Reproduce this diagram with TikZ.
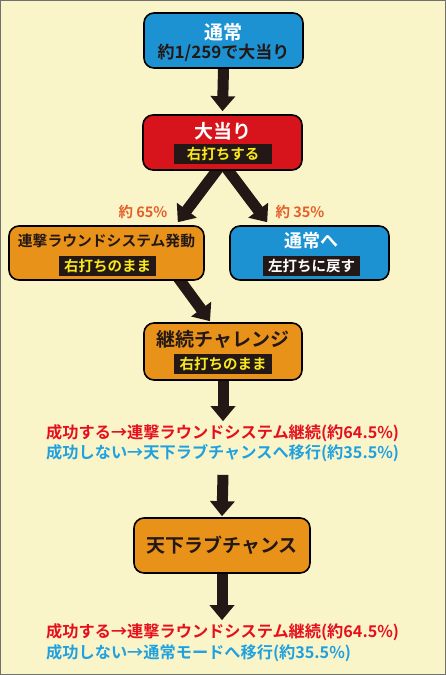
\documentclass[tikz,border=0pt]{standalone}
\usepackage{fontspec}
\setmainfont{Noto Sans CJK JP}[BoldFont={Noto Sans CJK JP Bold}]
\usetikzlibrary{arrows.meta,calc}
\pgfdeclarelayer{bg}
\pgfsetlayers{bg,main}
\definecolor{bgc}{HTML}{FAF5C8}
\definecolor{framec}{HTML}{707070}
\definecolor{bluec}{HTML}{1D92D2}
\definecolor{redc}{HTML}{D7141B}
\definecolor{orc}{HTML}{E8921A}
\definecolor{bandc}{HTML}{231815}
\definecolor{arc}{HTML}{231815}
\definecolor{yel}{HTML}{F8E81C}
\definecolor{pctc}{HTML}{E4602A}
\definecolor{txtred}{HTML}{E60F1E}
\definecolor{txtblue}{HTML}{1FA0E0}
\tikzset{
 box/.style={draw=black, line width=1.6pt, rounded corners=10pt, inner sep=0pt},
 title/.style={inner sep=0pt, font=\bfseries\fontsize{19}{19}\selectfont, text=white},
 sub/.style={inner sep=0pt, font=\bfseries\fontsize{17}{17}\selectfont, text=bandc},
 band/.style={fill=bandc, text=yel, inner sep=0pt, font=\bfseries\fontsize{14.5}{14.5}\selectfont, minimum height=20pt},
 fat/.style={draw=arc, line width=11pt, -{Triangle[width=24pt,length=15pt]}},
 pct/.style={inner sep=0pt, text=pctc, font=\bfseries\fontsize{14.5}{14.5}\selectfont},
 res/.style={inner sep=0pt, anchor=west, font=\bfseries\fontsize{16.2}{16.2}\selectfont}
}
\begin{document}
\begin{tikzpicture}[x=1pt,y=-1pt]
\useasboundingbox (0,0) rectangle (446,675);
% boxes
\node[box, fill=bluec, minimum width=159pt, minimum height=55pt] (tj) at (223.5,40.5) {};
\node[title] (tjt) at (223.5,32) {通常};
\node[sub] (tjs) at (223.5,53) {約1/259で大当り};

\node[box, fill=redc, minimum width=159pt, minimum height=55pt] (ha) at (222.5,142.5) {};
\node[title] (hat) at (222.5,131) {大当り};
\node[band, minimum width=98pt] (hab) at (223,153.5) {右打ちする};

\node[pct] (p65) at (143,212) {約 65\%};
\node[pct] (p35) at (300,212) {約 35\%};

\node[box, fill=orc, minimum width=195pt, minimum height=54pt] (lb) at (106.5,253) {};
\node[title, text=bandc, font=\bfseries\fontsize{14.8}{14.8}\selectfont] (lbt) at (106.5,241) {連撃ラウンドシステム発動};
\node[band, minimum width=97pt] (lbb) at (107.5,266) {右打ちのまま};

\node[box, fill=bluec, minimum width=159pt, minimum height=54pt] (rb) at (309.5,253) {};
\node[title, font=\bfseries\fontsize{18}{18}\selectfont] (rbt) at (311,241) {通常へ};
\node[band, minimum width=97pt, text=white] (rbb) at (311.5,266) {左打ちに戻す};

\node[box, fill=orc, minimum width=158pt, minimum height=57pt] (kc) at (223,351.5) {};
\node[title, text=bandc] (kct) at (223,339) {継続チャレンジ};
\node[band, minimum width=98pt] (kcb) at (223,364) {右打ちのまま};

\node[res, text=txtred] (t1) at (46,433) {成功する→連撃ラウンドシステム継続(約64.5\%)};
\node[res, text=txtblue] (t2) at (46,453) {成功しない→天下ラブチャンスへ移行(約35.5\%)};

\node[box, fill=orc, minimum width=176pt, minimum height=55pt] (tl) at (222,545.5) {};
\node[title, text=bandc] (tlt) at (222,545) {天下ラブチャンス};

\node[res, text=txtred] (t3) at (46,632) {成功する→連撃ラウンドシステム継続(約64.5\%)};
\node[res, text=txtblue] (t4) at (46,653) {成功しない→通常モードへ移行(約35.5\%)};

\begin{pgfonlayer}{bg}
\fill[bgc] (0,0) rectangle (446,675);
\draw[framec, line width=1.4pt] (0.7,0.7) rectangle (445.3,674.3);
\draw[fat] (tj.south) -- ($(ha.north)+(0,-3)$);
\draw[fat] ($(ha.south)+(0,-8)$) -- ($(lb.north east)+(-27,-3)$);
\draw[fat] ($(ha.south)+(0,-8)$) -- ($(rb.north west)+(38,-3)$);
\draw[fat] ($(lb.south)+(68,-8)$) -- ($(kc.north)+(-13,-1)$);
\draw[fat] (kc.south) -- ($(kc.south |- t1.north)+(0,-3)$);
\draw[fat] ($(kc.south |- t2.south)+(0,13)$) -- ($(tl.north)+(0,-1)$);
\draw[fat] (tl.south) -- ($(tl.south |- t3.north)+(0,-3)$);
\end{pgfonlayer}
\end{tikzpicture}
\end{document}
